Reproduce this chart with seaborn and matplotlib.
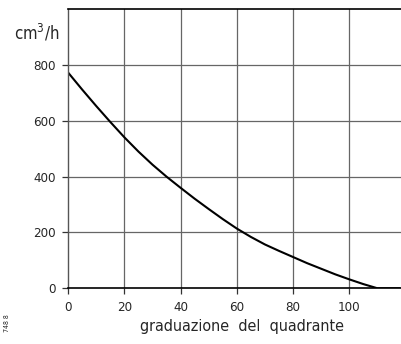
import numpy as np
import pandas as pd
import matplotlib
matplotlib.use("Agg")
import matplotlib.pyplot as plt
import seaborn as sns

# values
graduazione = [0, 5, 10, 15, 20, 25, 30, 35, 40, 45, 50, 55, 60,
               65, 70, 75, 80, 85, 90, 95, 100, 105, 110, 118]
portata = [773, 712, 653, 596, 541, 490, 443, 400, 360, 321, 284, 248, 214,
           184, 157, 134, 112, 90, 70, 50, 32, 15, 0, 0]
x_ticks = [0, 20, 40, 60, 80, 100]
y_ticks = [0, 200, 400, 600, 800]

df = pd.DataFrame({"graduazione": graduazione, "portata": portata})

sns.set_style("white")
font = ["DejaVu Sans", "Liberation Sans"]
plt.rcParams["font.family"] = font
plt.rcParams["font.stretch"] = "condensed"

fig = plt.figure(figsize=(4.01, 3.44), dpi=100)
ax = fig.add_axes([0.170, 0.162, 0.830, 0.811])

sns.lineplot(data=df, x="graduazione", y="portata", color="black", linewidth=1.5, ax=ax)

ax.set_xlim(0, 118.4)
ax.set_ylim(0, 1000)
ax.set_xticks(x_ticks)
ax.set_yticks(y_ticks)
ax.set_xticklabels([str(t) for t in x_ticks], fontsize=9.5, fontstretch="condensed")
ax.set_yticklabels([str(t) for t in y_ticks], fontsize=9.5, fontstretch="condensed")

# grid of the original paper chart
for xv in [20, 40, 60, 80, 100]:
    ax.axvline(xv, color="#666666", linewidth=0.9, zorder=0)
for yv in [200, 400, 600, 800]:
    ax.axhline(yv, color="#666666", linewidth=0.9, zorder=0)

ax.spines["right"].set_visible(False)
ax.spines["top"].set_color("black")
ax.spines["top"].set_linewidth(1.2)
ax.spines["bottom"].set_color("black")
ax.spines["bottom"].set_linewidth(1.2)
ax.spines["left"].set_color("#555555")
ax.spines["left"].set_linewidth(1.0)

ax.tick_params(axis="both", direction="out", length=4, width=0.9, color="#333333",
               bottom=True, left=True)
ax.tick_params(axis="x", pad=5)
ax.tick_params(axis="y", pad=5)

ax.set_xlabel("")
ax.set_ylabel("")
fig.text(0.604, 0.05, "graduazione  del  quadrante", fontsize=11.5,
         fontstretch="condensed", ha="center", va="center")
fig.text(0.035, 0.905, "cm$^3$/h", fontsize=12, fontstretch="condensed",
         ha="left", va="center")
fig.text(0.018, 0.06, "748 8", fontsize=5, rotation=90, ha="center", va="center")

fig.savefig("out.png", dpi=100)
